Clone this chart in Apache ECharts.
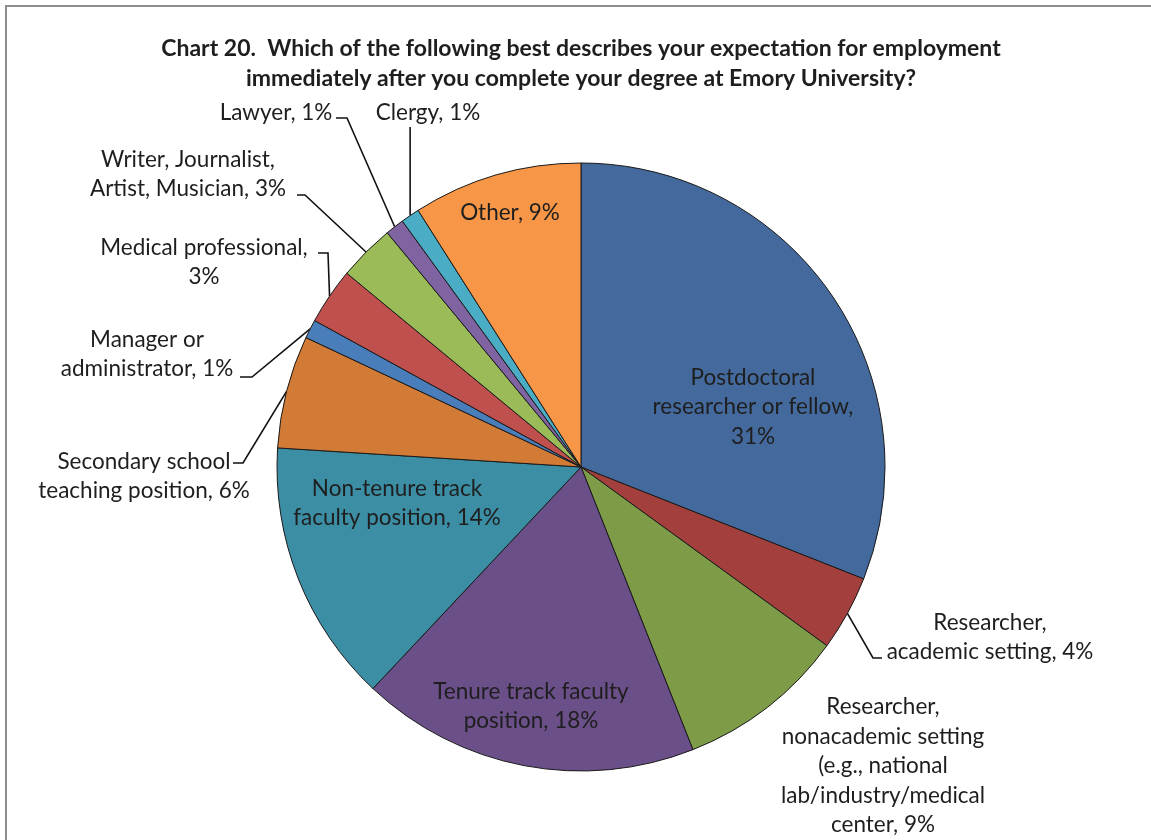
<!DOCTYPE html>
<html>
<head>
<meta charset="utf-8">
<script src="https://cdn.jsdelivr.net/npm/echarts@6/dist/echarts.min.js"></script>
<style>
  html, body { margin: 0; padding: 0; background: #ffffff; }
  #chart { width: 1151px; height: 840px; }
</style>
</head>
<body>
<div id="chart"></div>
<script>
// Survey answers, clockwise from 12 o'clock
const titleLines = [
  'Chart 20.  Which of the following best describes your expectation for employment',
  'immediately after you complete your degree at Emory University?'
];
const categories = [
  'Postdoctoral\nresearcher or fellow',
  'Researcher,\nacademic setting',
  'Researcher,\nnonacademic setting\n(e.g., national\nlab/industry/medical\ncenter',
  'Tenure track faculty\nposition',
  'Non-tenure track\nfaculty position',
  'Secondary school\nteaching position',
  'Manager or\nadministrator',
  'Medical professional',
  'Writer, Journalist,\nArtist, Musician',
  'Lawyer',
  'Clergy',
  'Other'
];
const shares = [31, 4, 9, 18, 14, 6, 1, 3, 3, 1, 1, 9];
// answers whose percentage wraps onto its own line
const valueOnNewLine = [0, 7];
const insideLabels = [0, 3, 4, 11];
const noLeader = [2];
const sliceColors = [
  '#44699C', '#A3403D', '#7E9B48', '#6A4F88', '#3C8EA5', '#D17B36',
  '#4A7EBB', '#C0504D', '#9BBB59', '#8064A2', '#4BACC6', '#F79646'
];

const FONT = 'Lato, "Open Sans", sans-serif';
const TEXT = '#1e1e1e';

// label centres and leader-line knees (index -> layout)
const labelSpots = {
  0:  { x: 753, y: 407 },
  1:  { x: 990, y: 637, leader: [[873, 658], [882, 658]] },
  2:  { x: 883, y: 766 },
  3:  { x: 531, y: 706 },
  4:  { x: 397, y: 503 },
  5:  { x: 144, y: 476, leader: [[243, 463], [233, 463]] },
  6:  { x: 147, y: 354, leader: [[252, 377], [240, 377]] },
  7:  { x: 204, y: 262, leader: [[328, 253], [318, 253]] },
  8:  { x: 188, y: 174, leader: [[305, 195], [297, 195]] },
  9:  { x: 276, y: 113, leader: [[347, 118], [336, 118]] },
  10: { x: 428, y: 113, leader: [['edge', 127], ['edge', 127]] },
  11: { x: 510, y: 213 }
};

const pieData = categories.map((name, i) => {
  const item = {
    name: name,
    value: shares[i],
    itemStyle: { color: sliceColors[i] }
  };
  if (insideLabels.includes(i)) {
    item.label = { position: 'inside' };
    item.labelLine = { show: false };
  } else if (noLeader.includes(i)) {
    item.labelLine = { show: false };
  }
  return item;
});

const chart = echarts.init(document.getElementById('chart'), null, { renderer: 'canvas' });

chart.setOption({
  backgroundColor: '#ffffff',
  animation: false,
  title: {
    text: titleLines.join('\n'),
    left: 576,
    top: 29,
    textAlign: 'center',
    textStyle: {
      fontFamily: FONT,
      fontSize: 23,
      fontWeight: 'bold',
      lineHeight: 30,
      color: TEXT
    }
  },
  graphic: [{
    type: 'rect',
    silent: true,
    shape: { x: 6, y: 6, width: 1300, height: 1000 },
    style: { fill: 'none', stroke: '#8e8e8e', lineWidth: 2 }
  }],
  series: [{
    type: 'pie',
    center: [581, 467],
    radius: 304,
    startAngle: 90,
    clockwise: true,
    avoidLabelOverlap: false,
    data: pieData,
    itemStyle: { borderColor: '#1a1a1a', borderWidth: 1 },
    emphasis: { disabled: true },
    label: {
      show: true,
      fontFamily: FONT,
      fontSize: 22.5,
      lineHeight: 29.5,
      color: TEXT,
      align: 'center',
      formatter: p => p.name + (valueOnNewLine.includes(p.dataIndex) ? ',\n' : ', ') + p.value + '%'
    },
    labelLine: {
      show: true,
      lineStyle: { color: '#111111', width: 1.6 }
    },
    labelLayout: params => {
      const spot = labelSpots[params.dataIndex];
      const out = { x: spot.x, y: spot.y, align: 'center', verticalAlign: 'middle' };
      if (spot.leader && params.labelLinePoints) {
        const edge = params.labelLinePoints[0];
        out.labelLinePoints = [[edge[0], edge[1]]].concat(
          spot.leader.map(p => [p[0] === 'edge' ? edge[0] : p[0], p[1]])
        );
      }
      return out;
    }
  }]
});
</script>
</body>
</html>
